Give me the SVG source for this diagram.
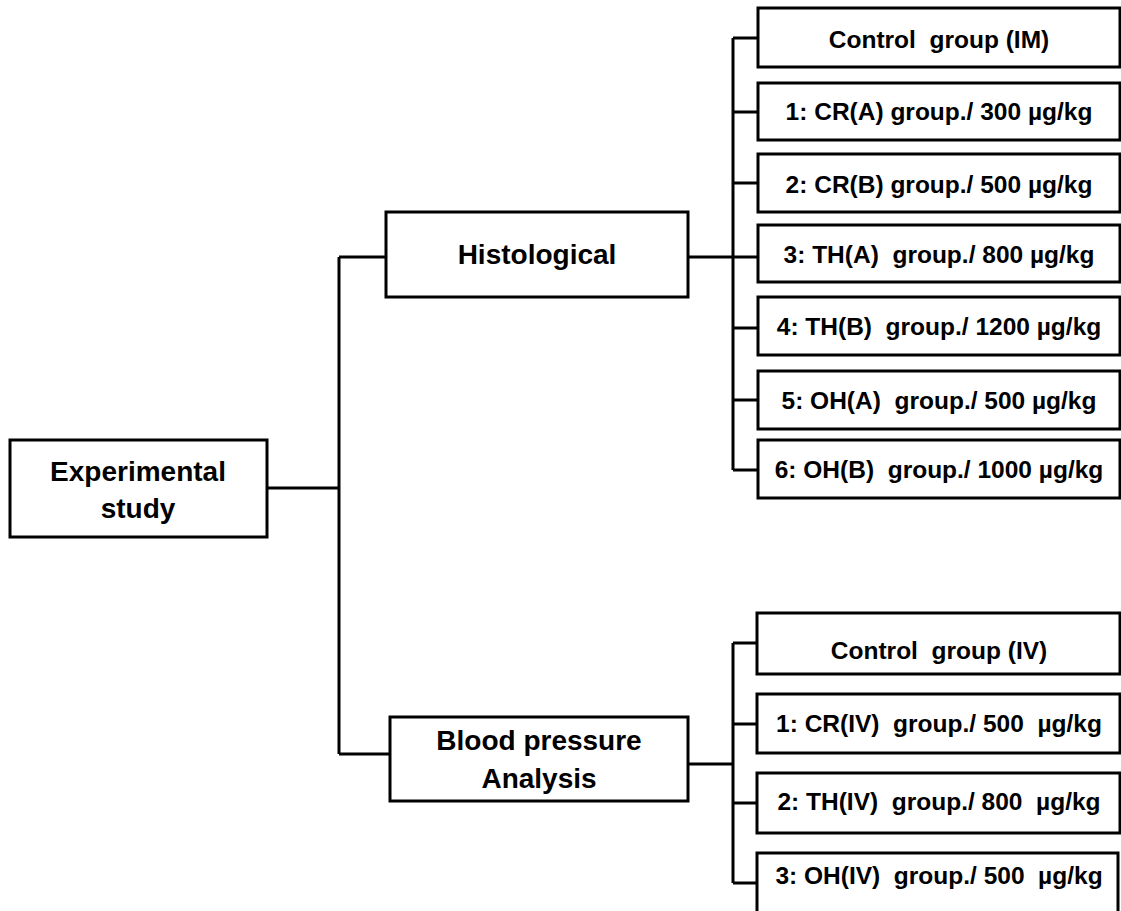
<svg xmlns="http://www.w3.org/2000/svg" width="1121" height="911" viewBox="0 0 1121 911">
<style>
.box{fill:#fff;stroke:#000;stroke-width:3}
.ln{fill:none;stroke:#000;stroke-width:3}
text{font-family:"Liberation Sans",Arial,sans-serif;font-weight:bold;fill:#000;text-anchor:middle;white-space:pre}
.big{font-size:28px}
.sm{font-size:24.5px}
</style>
<rect width="1121" height="911" fill="#fff"/>
<g id="connectors">
<path class="ln" d="M267 488H339M339 257V754M339 257H386M339 754H390"/>
<path class="ln" d="M688 257H758M733 38V470M733 38H758M733 112H758M733 183H758M733 328H758M733 400H758M733 470H758"/>
<path class="ln" d="M688 764H733M733 643V883M733 643H758M733 724H758M733 803H758M733 883H758"/>
</g>
<g id="n-exp"><rect class="box" x="10" y="440" width="257" height="97"/><text class="big" x="138" y="481">Experimental</text><text class="big" x="138" y="518">study</text></g>
<g id="n-hist"><rect class="box" x="386" y="212" width="302" height="85"/><text class="big" x="537" y="264">Histological</text></g>
<g id="n-bp"><rect class="box" x="390" y="717" width="298" height="84"/><text class="big" x="539" y="750">Blood pressure</text><text class="big" x="539" y="788">Analysis</text></g>
<g id="n-h0"><rect class="box" x="758" y="8" width="362" height="59"/><text class="sm" xml:space="preserve" x="939" y="48">Control  group (IM)</text></g>
<g id="n-h1"><rect class="box" x="758" y="83" width="362" height="57"/><text class="sm" xml:space="preserve" x="939" y="120">1: CR(A) group./ 300 µg/kg</text></g>
<g id="n-h2"><rect class="box" x="758" y="154" width="362" height="58"/><text class="sm" xml:space="preserve" x="939" y="193">2: CR(B) group./ 500 µg/kg</text></g>
<g id="n-h3"><rect class="box" x="758" y="225" width="362" height="57"/><text class="sm" xml:space="preserve" x="939" y="263">3: TH(A)  group./ 800 µg/kg</text></g>
<g id="n-h4"><rect class="box" x="758" y="297" width="362" height="58"/><text class="sm" xml:space="preserve" x="939" y="335">4: TH(B)  group./ 1200 µg/kg</text></g>
<g id="n-h5"><rect class="box" x="758" y="371" width="362" height="58"/><text class="sm" xml:space="preserve" x="939" y="409">5: OH(A)  group./ 500 µg/kg</text></g>
<g id="n-h6"><rect class="box" x="758" y="440" width="362" height="58"/><text class="sm" xml:space="preserve" x="939" y="478">6: OH(B)  group./ 1000 µg/kg</text></g>
<g id="n-b0"><rect class="box" x="757" y="613" width="363" height="61"/><text class="sm" xml:space="preserve" x="939" y="659">Control  group (IV)</text></g>
<g id="n-b1"><rect class="box" x="757" y="694" width="363" height="59"/><text class="sm" xml:space="preserve" x="939" y="732">1: CR(IV)  group./ 500  µg/kg</text></g>
<g id="n-b2"><rect class="box" x="757" y="773" width="363" height="60"/><text class="sm" xml:space="preserve" x="939" y="810">2: TH(IV)  group./ 800  µg/kg</text></g>
<g id="n-b3"><rect class="box" x="757" y="853" width="361" height="70"/><text class="sm" xml:space="preserve" x="939" y="884">3: OH(IV)  group./ 500  µg/kg</text></g>
</svg>
